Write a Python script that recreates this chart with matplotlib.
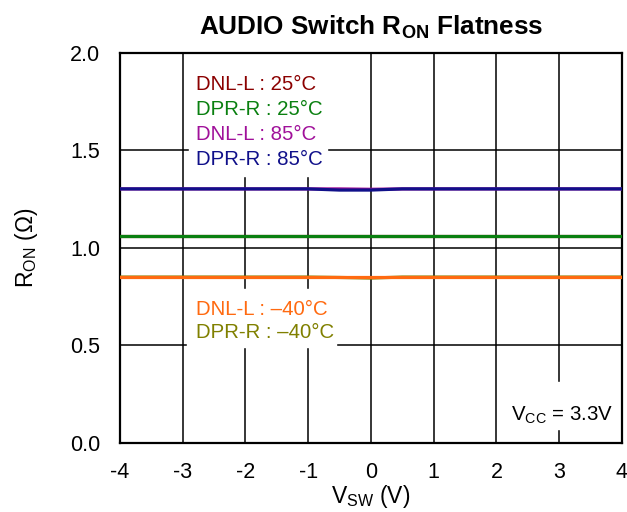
import matplotlib
matplotlib.use("Agg")
import matplotlib.pyplot as plt

plt.rcParams["font.family"] = ["Liberation Sans", "DejaVu Sans"]
plt.rcParams["mathtext.fontset"] = "custom"
plt.rcParams["mathtext.rm"] = "Liberation Sans"
plt.rcParams["mathtext.bf"] = "Liberation Sans:bold"
plt.rcParams["axes.unicode_minus"] = False

# data
vsw = [-4, -3.5, -3, -2.5, -2, -1.5, -1, -0.5, 0, 0.5, 1, 1.5, 2, 2.5, 3, 3.5, 4]
dnl_25 = [1.060] * 17
dpr_25 = [1.062] * 17
dnl_85 = [1.302] * 8 + [1.300, 1.302] + [1.302] * 7
dpr_85 = [1.302] * 7 + [1.296, 1.296] + [1.302] * 8
dpr_m40 = [0.850] * 7 + [0.848, 0.845] + [0.850] * 8
dnl_m40 = [0.852] * 17

series = [
    (dnl_25, "#8b0000"),
    (dpr_25, "#0a8010"),
    (dnl_85, "#a0109a"),
    (dpr_85, "#10108a"),
    (dpr_m40, "#808000"),
    (dnl_m40, "#ff6a10"),
]

labels_top = [("DNL-L : 25°C", "#8b0000"), ("DPR-R : 25°C", "#0a8010"),
              ("DNL-L : 85°C", "#a0109a"), ("DPR-R : 85°C", "#10108a")]
labels_bot = [("DNL-L : \u201340°C", "#ff6a10"), ("DPR-R : \u201340°C", "#808000")]

fig = plt.figure(figsize=(6.27, 5.12), dpi=100)
ax = fig.add_axes([0.191, 0.135, 0.801, 0.762])

for vals, col in series:
    ax.plot(vsw, vals, color=col, lw=2.3, zorder=3)

ax.set_xlim(-4, 4)
ax.set_ylim(0, 2)
ax.set_xticks(range(-4, 5))
ax.set_yticks([0, 0.5, 1.0, 1.5, 2.0])
ax.set_yticklabels(["0.0", "0.5", "1.0", "1.5", "2.0"])
ax.tick_params(length=0, labelsize=15.5)
ax.tick_params(axis="x", pad=14)
ax.tick_params(axis="y", pad=14)
ax.grid(True, color="black", lw=1.1, zorder=1)
for s in ax.spines.values():
    s.set_linewidth(1.6)

ax.set_title(r"AUDIO Switch R$_{\mathbf{ON}}$ Flatness", fontsize=18.8,
             fontweight="bold", pad=13)
ax.set_xlabel(r"V$_{\mathrm{SW}}$ (V)", fontsize=16.5, labelpad=0)
ax.set_ylabel(r"R$_{\mathrm{ON}}$ ($\Omega$)", fontsize=16.5, labelpad=22)

# white boxes behind the labels hide the grid
ax.add_patch(plt.Rectangle((-2.9, 1.37), 2.2, 0.9, color="white", zorder=2))
ax.add_patch(plt.Rectangle((-2.93, 0.49), 2.38, 0.3, color="white", zorder=2))
ax.add_patch(plt.Rectangle((2.02, 0.07), 1.93, 0.24, color="white", zorder=2))

ys = [1.836, 1.708, 1.579, 1.451]
for (t, c), y in zip(labels_top, ys):
    ax.text(-2.78, y, t, color=c, fontsize=14.7, va="center", zorder=4)
for (t, c), y in zip(labels_bot, [0.685, 0.567]):
    ax.text(-2.78, y, t, color=c, fontsize=14.7, va="center", zorder=4)

ax.text(2.23, 0.14, r"V$_{\mathrm{CC}}$ = 3.3V", fontsize=14.7, va="center", zorder=4)

fig.savefig("out.png", dpi=100)
